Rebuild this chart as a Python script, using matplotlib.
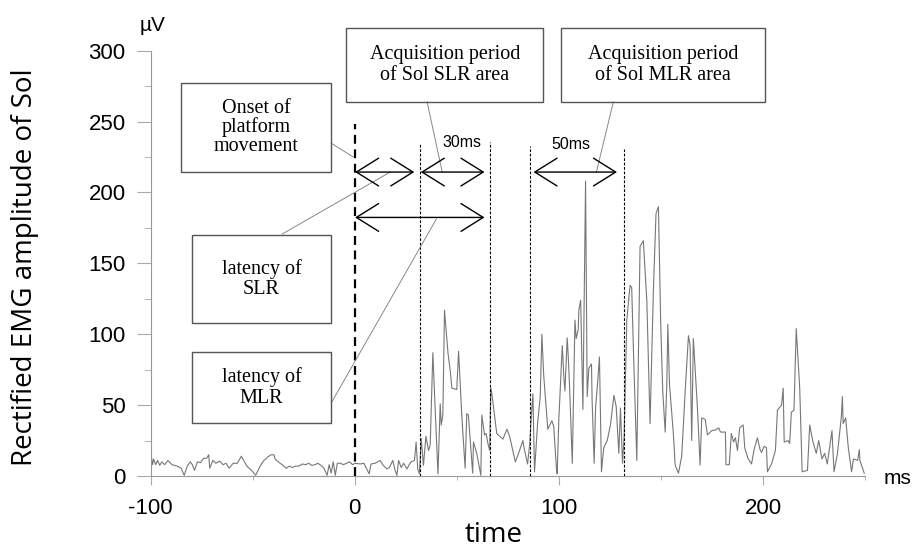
import matplotlib
matplotlib.use('Agg')
import matplotlib.pyplot as plt
from matplotlib.patches import Rectangle

# rectified EMG of Sol (ms, uV)
time_ms = [-100, -99, -98.5, -97.5, -96.5, -95.5, -94.5, -93, -91.5, -89.5,
           -87, -85, -83.5, -82, -80.5, -79.5, -78.5, -77, -75.5, -74,
           -72.5, -71.5, -71, -69.5, -68, -66, -64.5, -63, -61.5, -59.5,
           -57.5, -55.5, -54, -52.5, -50.5, -48.5, -47, -45.5, -44.5, -43.5,
           -42.5, -41, -39.5, -39, -37, -35.5, -33.5, -32, -30.5, -29,
           -27.5, -25.5, -24, -22.5, -21, -19.5, -18, -16.5, -15, -13.5,
           -12.5, -11.5, -10.5, -9.5, -8.5, -7, -5.5, -4, -2.5, -1,
           0.2, 2.7, 4.5, 5.9, 7.1, 8, 10, 12.5, 14, 15.8,
           17, 18.7, 19.8, 20.7, 21.5, 22.8, 24, 25.6, 26.9, 27.7,
           29.3, 30.1, 30.9, 31.7, 32.6, 33.7, 34.9, 36.2, 37, 38.3,
           39.5, 40.8, 41.9, 42.4, 43.2, 44, 45.7, 46.9, 47.6, 50,
           50.9, 52.5, 54.1, 54.9, 55.7, 57.8, 58.2, 59.8, 61.8, 62.3,
           63.6, 64.4, 65.1, 66.1, 66.7, 67.2, 69.6, 72.6, 74.6, 75.9,
           78.7, 80.3, 82.4, 83.1, 84.7, 85.7, 86.5, 87.3, 88.1, 89.6,
           90.9, 91.7, 92.6, 94.2, 94.6, 96.6, 97.5, 98.8, 99.2, 100,
           101.7, 102.5, 103, 104.1, 104.6, 105.3, 106.6, 107.9, 108.5, 109.5,
           109.8, 110.7, 111.8, 113.1, 113.9, 114.7, 116, 116.3, 117.3, 118,
           118.8, 119.9, 120.9, 122, 123.7, 125.3, 127, 128.1, 129.4, 130.2,
           131.2, 132, 133.3, 134.9, 135.7, 136.5, 138.2, 139.8, 141.4, 143.1,
           144.7, 146.3, 147.6, 148.8, 149.9, 150.9, 152.1, 152.9, 153.4, 154.2,
           156.1, 157, 158.6, 160.2, 161.9, 163.5, 164.3, 165.1, 165.9, 167.9,
           169.2, 170, 171.7, 172.8, 174.9, 176.7, 178.3, 179.2, 181.6, 181.9,
           183.5, 184.5, 185.6, 186.5, 187.5, 188.6, 190.3, 191.1, 192.8, 194.4,
           195.7, 197.3, 198.5, 199.3, 200.6, 201.7, 202.2, 204.2, 206.1, 207.1,
           209.1, 209.9, 210.4, 212.3, 213.1, 213.9, 215.2, 216.3, 218, 219.2,
           221.8, 222.9, 224.5, 226.1, 227.3, 228.9, 230.2, 231.5, 233.1, 233.8,
           234.8, 236.5, 238.4, 238.9, 239.3, 240.5, 241.8, 243.4, 244.3, 246.4,
           247.2, 247.5, 249.6]
emg_uv = [18, 8, 12, 8, 11, 7.5, 10, 8, 11, 8,
          7, 5.5, 0.5, 7, 10, 8, 4, 10, 9.5, 12.5,
          12.5, 15, 5.5, 11, 9, 10.5, 8, 9, 5.5, 9,
          9, 14, 10, 6.5, 4, 0.5, 5, 9, 11, 12,
          13.5, 15, 15, 12, 9.5, 8, 5.5, 7, 6, 7,
          7, 8.5, 8, 9, 7.5, 8, 9, 7.5, 5.5, 0.5,
          8, 2, 10, 0.5, 9, 9, 8, 9, 10, 8,
          9, 8.5, 9, 5, 1.5, 8.5, 9, 11, 7.5, 5,
          6, 11, 4, 0.5, 11, 6, 9, 5, 8.5, 10,
          11, 24, 5, 1.5, 26.5, 7.5, 28, 18, 22, 87,
          45, 1.5, 51, 36, 43, 117, 87, 73, 62, 61,
          88, 42, 5.5, 44, 43, 2, 24, 16, 0.5, 43,
          29, 30, 24, 18, 62, 58, 30, 26, 33, 28,
          10, 16, 25, 19, 8.5, 22, 41, 58, 3, 37,
          56, 100, 71, 41, 33, 39, 35, 6, 1.5, 40,
          92, 69, 60, 97.5, 85, 62, 9, 110, 97, 103,
          117, 124, 47, 208, 56, 76, 79, 54, 9, 48,
          62, 84, 3, 20, 25, 36, 57, 49, 16, 48,
          9, 28, 110, 134.5, 133, 91, 11, 162, 166, 124,
          37, 130, 185, 190, 108, 60, 31, 65, 107, 65,
          30, 7.7, 2, 14, 60, 99, 92, 25, 97, 48,
          7.7, 41, 40, 29, 32, 32.5, 34, 31, 31, 8,
          8, 30, 24, 27, 18, 34, 36, 19.5, 12, 8.5,
          19, 27, 19, 16.6, 21, 20, 3, 8.5, 18, 46.5,
          50, 62, 24, 25, 23, 45, 46.5, 104, 62, 3,
          4, 36, 24, 16, 25, 12, 16, 8.5, 25, 32,
          3, 16, 42, 56, 37, 41, 20, 3, 12, 11,
          18.6, 11, 2]

y_ticks = [0, 50, 100, 150, 200, 250, 300]
x_ticks = [-100, 0, 100, 200]

plt.rcParams['font.family'] = ['Liberation Sans', 'DejaVu Sans']
plt.rcParams['axes.unicode_minus'] = False

fig = plt.figure(figsize=(9.15, 5.5), dpi=100)
ax = fig.add_axes([0.1645, 0.1345, 0.7809, 0.7733])

ax.plot(time_ms, emg_uv, color='#777777', lw=0.8)

ax.set_xlim(-100, 250)
ax.set_ylim(0, 300)
for s in ['top', 'right']:
    ax.spines[s].set_visible(False)
for s in ['left', 'bottom']:
    ax.spines[s].set_color('#999999')
    ax.spines[s].set_linewidth(0.8)

ax.set_yticks(y_ticks)
ax.set_yticks([25, 75, 125, 175, 225, 275], minor=True)
ax.set_xticks(x_ticks)
ax.set_xticks([-50, 50, 150, 250], minor=True)
ax.tick_params(axis='both', which='both', colors='#aaaaaa', labelcolor='black', labelsize=16)
ax.tick_params(axis='y', which='major', length=10, pad=8)
ax.tick_params(axis='y', which='minor', length=5)
ax.tick_params(axis='x', which='major', length=6.5, pad=9)
ax.tick_params(axis='x', which='minor', length=3)

# unit labels
ax.text(-98.8, 318, 'µV', ha='center', va='center', fontsize=15, clip_on=False)
ax.text(266, -1.5, 'ms', ha='center', va='center', fontsize=15, clip_on=False)
fig.text(494 / 915, 1 - 535 / 550, 'time', ha='center', va='center',
         family='Open Sans', fontsize=20)
fig.text(25 / 915, 1 - 267 / 550, 'Rectified EMG amplitude of Sol', ha='center',
         va='center', rotation=90, family='Open Sans', fontsize=20)

# vertical markers
ax.plot([0, 0], [0, 248], color='black', lw=1.6, ls=(0, (4, 2.5)))
for xv, top in [(31.8, 235), (66.1, 235.8), (85.7, 233), (131.8, 231)]:
    ax.plot([xv, xv], [0, top], color='black', lw=0.8, ls=(0, (2.5, 1.5)))

# arrows
arrow_style = '<->,head_length=1.6,head_width=1.0'
for x0, x1, yy in [(0.2, 29.2, 214.4), (32.4, 63.6, 214.4),
                   (87.6, 128.5, 214.4), (0.2, 63.6, 182.4)]:
    ax.annotate('', xy=(x1, yy), xytext=(x0, yy),
                arrowprops=dict(arrowstyle=arrow_style, color='black', lw=1.0,
                                shrinkA=0, shrinkB=0, mutation_scale=10))

ax.text(52.5, 235, '30ms', ha='center', va='center', fontsize=11.5)
ax.text(106, 233.6, '50ms', ha='center', va='center', fontsize=11.5)

# leader lines
for (xa, ya), (xb, yb) in [((-11.5, 234.8), (-0.7, 225)),
                           ((-35.5, 170.7), (17.4, 214.4)),
                           ((-11.5, 51.5), (40, 181.2)),
                           ((35.5, 263.8), (42.9, 214.4)),
                           ((126.7, 263.8), (118.4, 214.4))]:
    ax.plot([xa, xb], [ya, yb], color='#888888', lw=0.7, clip_on=False)


def box(x0, x1, y0, y1, text, ls=1.0):
    ax.add_patch(Rectangle((x0, y0), x1 - x0, y1 - y0, fill=False, ec='#555555',
                           lw=1.0, clip_on=False, zorder=3))
    ax.text((x0 + x1) / 2, (y0 + y1) / 2, text, ha='center', va='center',
            family='Liberation Serif', fontsize=14.5, linespacing=ls, clip_on=False)


box(-85.0, -11.5, 214.4, 277.2, 'Onset of\nplatform\nmovement', ls=0.95)
box(-79.7, -11.5, 107.9, 170.0, 'latency of\nSLR', ls=1.1)
box(-79.7, -11.5, 37.4, 87.4, 'latency of\nMLR', ls=1.1)
box(-4.2, 92.4, 263.8, 316.0, 'Acquisition period\nof Sol SLR area', ls=1.2)
box(101.2, 201.2, 263.8, 316.0, 'Acquisition period\nof Sol MLR area', ls=1.2)

fig.savefig('out.png', dpi=100)
